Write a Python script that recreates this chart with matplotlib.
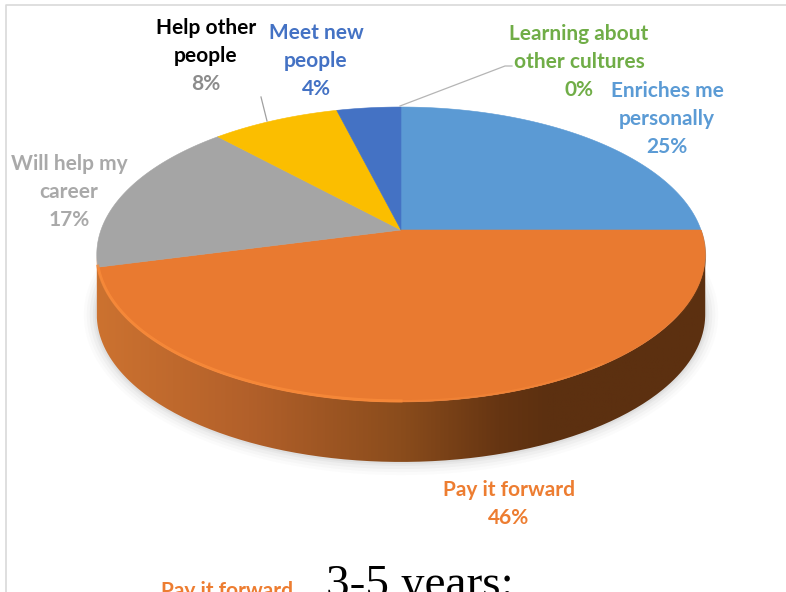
#!/usr/bin/env python3
"""Perspective pie of reasons for taking part, drawn on a pixel canvas."""

import matplotlib
matplotlib.use("Agg")
import matplotlib.pyplot as plt
from matplotlib.colors import LinearSegmentedColormap
from matplotlib.patches import PathPatch, Polygon
from matplotlib.path import Path
import numpy as np

CATEGORIES = [
    "Enriches me\npersonally",
    "Pay it forward",
    "Learning about\nother cultures",
    "Will help my\ncareer",
    "Help other\npeople",
    "Meet new\npeople",
]
VALUES = [25, 46, 0, 17, 8, 4]
SLICE_COLORS = ["#5B9AD4", "#E97A30", "#70AD47", "#A5A5A5", "#FBBE00", "#4472C4"]
NAME_COLORS = ["#5B9BD5", "#ED7D31", "#70AD47", "#A9A9A9", "#000000", "#4472C4"]
PCT_COLORS = ["#5B9BD5", "#ED7D31", "#70AD47", "#A9A9A9", "#8C8C8C", "#4472C4"]

# label centre x, top line centre y
LABEL_POS = [(667, 91), (509, 490), (579, 34), (69, 164), (206, 28), (316, 33)]
LINE_STEP = 28

CX, CY = 401, 230
RX, RY = 300, 143.4
TILT = 0.166
DEPTH = 60


def project(theta):
  # theta is clockwise from the top of the circle
  x = np.sin(theta)
  u = np.cos(theta)
  return CX + RX * x / (1 + TILT * u), CY - RY * u / (1 + TILT * u)


def arc(start, stop, n=120):
  px, py = project(np.linspace(start, stop, n))
  return np.column_stack([px, py])


fig = plt.figure(figsize=(7.86, 5.92), dpi=100)
ax = fig.add_axes([0, 0, 1, 1])
ax.set_xlim(0, 786)
ax.set_ylim(592, 0)
ax.axis("off")

# chart frame
ax.plot([6, 6, 786], [592, 5, 5], color="#D9D9D9", linewidth=1.2, zorder=1)

# front arc, between the widest points of the ellipse
edge = np.arccos(-TILT)
front = arc(edge, 2 * np.pi - edge, 240)

# soft shadow under the disc, the whole ring sits behind the top face
ring = arc(0, 2 * np.pi, 360) + [0, DEPTH]
for grow, alpha in zip([13, 10, 7, 4, 2], [0.025, 0.035, 0.05, 0.06, 0.07]):
  pts = (ring - [CX, 310]) * [1 + grow / 305, 1 + grow / 150] + [CX, 310]
  ax.fill(pts[:, 0], pts[:, 1], color="#707070", alpha=alpha, linewidth=0, zorder=2)

# plain white behind the top half of the shadow ring
back = arc(-edge, edge, 200)
ax.fill(
    np.r_[back[:, 0], 730, 72],
    np.r_[back[:, 1], 262, 262],
    color="white",
    linewidth=0,
    zorder=2.5,
)

# side wall with a horizontal gradient
side_pts = np.vstack([front, (front + [0, DEPTH])[::-1]])
side = PathPatch(Path(np.vstack([side_pts, side_pts[0]])), facecolor="none", edgecolor="none")
ax.add_patch(side)
side_cmap = LinearSegmentedColormap.from_list(
    "side",
    [(0.0, "#CC7230"), (0.25, "#B2602A"), (0.5, "#8A4C1C"), (0.66, "#663512"), (0.74, "#5C3010"), (1.0, "#5C3010")],
)
img = ax.imshow(
    np.linspace(0, 1, 400).reshape(1, -1),
    extent=[96, 707, 480, 240],
    cmap=side_cmap,
    aspect="auto",
    zorder=3,
)
img.set_clip_path(side)
ax.set_xlim(0, 786)
ax.set_ylim(592, 0)

# top face slices
start = 0.0
for value, color in zip(VALUES, SLICE_COLORS):
  stop = start + value / sum(VALUES) * 2 * np.pi
  if value > 0:
    ax.add_patch(Polygon(
        np.vstack([[CX, CY], arc(start, stop)]),
        closed=True,
        facecolor=color,
        edgecolor=color,
        linewidth=0.4,
        zorder=4,
    ))
  start = stop

# bevel along the lower rim of the orange slice, bright on the left
pay_start = VALUES[0] / 100 * 2 * np.pi
pay_stop = (VALUES[0] + VALUES[1]) / 100 * 2 * np.pi
rim = arc(np.pi, pay_stop, 200)
ax.plot(rim[:, 0], rim[:, 1] - 1, color="#F98B3A", linewidth=2.2, alpha=0.8, zorder=5)
rim = arc(pay_start + 0.95, np.pi, 100)
ax.plot(rim[:, 0], rim[:, 1] - 1, color="#F98B3A", linewidth=1.4, alpha=0.45, zorder=5)
dark = arc(pay_start, pay_start + 0.55, 80)
ax.plot(dark[:, 0], dark[:, 1] + 1, color="#6B3A14", linewidth=1.2, alpha=0.6, zorder=3.5)

# leader lines
ax.plot([400, 505, 512], [106, 66, 66], color="#B5B5B5", linewidth=0.9, zorder=6)
ax.plot([261, 267], [97, 121], color="#A0A0A0", linewidth=0.9, zorder=6)

# data labels
for name, value, (x, y), name_color, pct_color in zip(
    CATEGORIES, VALUES, LABEL_POS, NAME_COLORS, PCT_COLORS
):
  lines = name.split("\n")
  for i, line in enumerate(lines):
    ax.text(x, y + i * LINE_STEP, line, color=name_color, ha="center", va="center",
            fontsize=15, fontfamily="Lato", fontweight="bold", zorder=7)
  ax.text(x, y + len(lines) * LINE_STEP, f"{value}%", color=pct_color, ha="center", va="center",
          fontsize=15, fontfamily="Lato", fontweight="bold", zorder=7)

# text of the next slide, cut off by the image edge
ax.text(420, 597, "3-5 years:", color="black", ha="center", va="baseline",
        fontsize=34, fontfamily="Liberation Serif", zorder=7)
ax.text(227, 597, "Pay it forward", color="#ED7D31", ha="center", va="baseline",
        fontsize=15, fontfamily="Lato", fontweight="bold", zorder=7)

fig.savefig("out.png", dpi=100)
plt.close(fig)
